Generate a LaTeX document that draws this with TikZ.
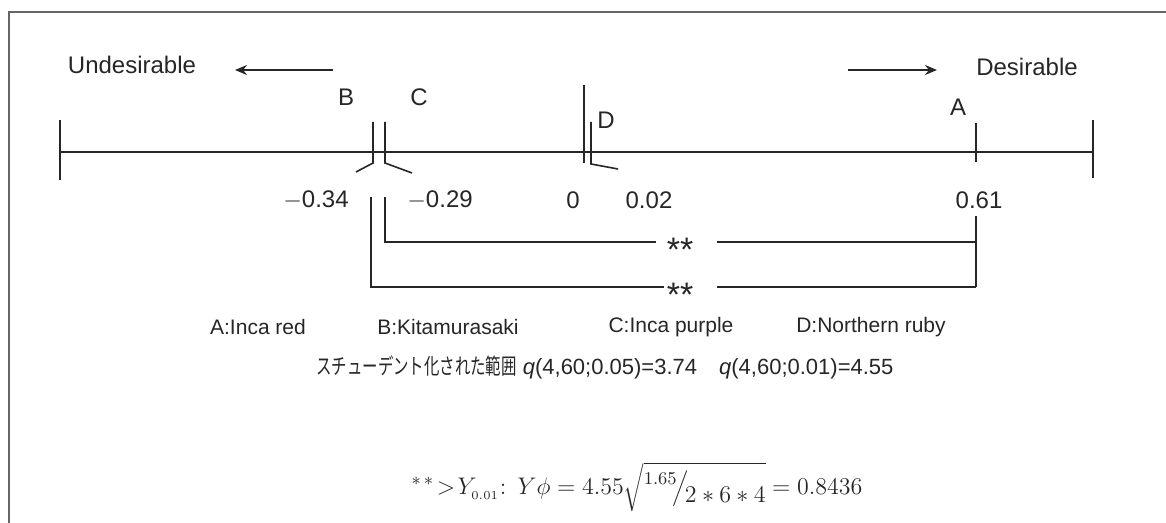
\documentclass[tikz,border=0pt]{standalone}
\usepackage{fontspec}
\usepackage{graphicx}
\usetikzlibrary{arrows.meta}
\setmainfont{Liberation Sans}
\newfontfamily\jpfont{Noto Sans CJK JP}

\begin{document}
\begin{tikzpicture}
[
x=0.5pt, y=-0.5pt,
line width=0.8pt, black!85,
every node/.style={inner sep=0pt, text=black!85, font=\fontsize{12}{14}\selectfont},
legend/.style={font=\fontsize{10.5}{13}\selectfont},
stars/.style={anchor=base, font=\fontsize{17}{19}\selectfont\color{black!60}},
dir/.style={-{Stealth[length=6pt,width=5pt]}}
]
\useasboundingbox (0,0) rectangle (1166,523);
\draw[black!60] (9,523) -- (9,12) -- (1166,12);

% direction
\node (undes) at (132,65) {Undesirable};
\node (des) at (1027,67) {Desirable};
\coordinate (la) at (333,70);
\coordinate (lb) at (235,70);
\coordinate (ra) at (848,70);
\coordinate (rb) at (937,70);
\draw[dir] (la) -- (lb);
\draw[dir] (ra) -- (rb);

% scale
\coordinate (lend) at (60,152);
\coordinate (rend) at (1093,152);
\draw (lend) -- (rend);
\draw (60,120) -- (60,180);
\draw (1093,120) -- (1093,178);

\draw (373,122) -- (373,163) -- (356,172);
\draw (385,122) -- (385,163) -- (412,173);
\draw (584,85) -- (584,163);
\draw (591,122) -- (591,164) -- (618,169);
\draw (976,123) -- (976,162);

\node (labB) at (346,97) {B};
\node (labC) at (419,97) {C};
\node (labD) at (606,120) {D};
\node (labA) at (958,107) {A};

\node (vB) at (316,200) {$-$0.34};
\node (vC) at (440,200) {$-$0.29};
\node (vz) at (573,200) {0};
\node (vD) at (649,200) {0.02};
\node (vA) at (979,200) {0.61};

% significance
\node[stars] (s1) at (680,262) {**};
\node[stars] (s2) at (680,307) {**};
\draw (385,197) -- (385,242) -- (656,242);
\draw (717,242) -- (976,242);
\draw (976,216) -- (976,287);
\draw (371,197) -- (371,287) -- (664,287);
\draw (717,287) -- (976,287);

% legend
\node[legend] (kA) at (258,327) {A:Inca red};
\node[legend] (kB) at (448,327) {B:Kitamurasaki};
\node[legend] (kC) at (671,327) {C:Inca purple};
\node[legend] (kD) at (871,327) {D:Northern ruby};

\node[font=\fontsize{11}{13}\selectfont] (rng) at (605,367)
{\scalebox{0.7}[1]{\jpfont スチューデント化された範囲}\ \textit{q}(4,60;0.05)=3.74\quad \textit{q}(4,60;0.01)=4.55};

\node[font=\fontsize{13}{15}\selectfont] (frm) at (637,487)
{$^{*\,*}\!>\!Y_{_{0.01}}\colon\ Y\phi = 4.55\sqrt{\raisebox{0.7ex}{$\scriptstyle 1.65$}\!\Big/\!\raisebox{-0.6ex}{$2*6*4$}} = 0.8436$};
\end{tikzpicture}
\end{document}
